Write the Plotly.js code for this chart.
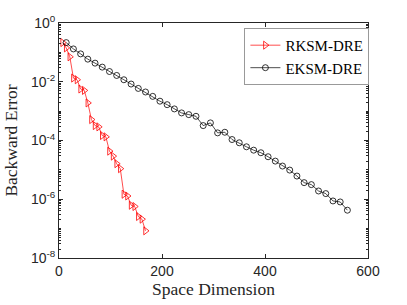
<!DOCTYPE html>
<html>
<head>
<meta charset="utf-8">
<script src="https://cdn.plot.ly/plotly-3.0.1.min.js"></script>
<style>html,body{margin:0;padding:0;background:#fff;}#chart{width:407px;height:305px;}</style>
</head>
<body>
<div id="chart"></div>
<script>
// RKSM-DRE: space dimension and backward error
const rksmDim = [7,14,21,28,35,42,49,56,63,70,77,84,91,98,105,112,119,126,133,140,147,154,161,168];
const rksmErr = [0.215,0.142,0.0704,0.01334,0.0117,5.66e-3,5.07e-3,1.90e-3,5.15e-4,3.22e-4,2.91e-4,1.48e-4,1.33e-4,4.34e-5,2.94e-5,1.62e-5,1.10e-5,1.48e-6,1.29e-6,6.26e-7,5.66e-7,2.59e-7,2.10e-7,8.41e-8];

// EKSM-DRE: space dimension and backward error
const eksmDim = [14,28,42,56,70,84,98,112,126,140,154,168,182,196,210,224,238,252,266,280,294,308,322,336,350,364,378,392,406,420,434,448,462,476,490,504,518,532,546,560];
const eksmErr = [0.215,0.131,0.0889,0.0588,0.0430,0.0315,0.0223,0.0164,0.0117,8.36e-3,5.93e-3,4.48e-3,3.18e-3,2.18e-3,1.66e-3,1.19e-3,8.69e-4,7.61e-4,6.67e-4,3.22e-4,3.98e-4,1.82e-4,1.91e-4,1.08e-4,8.36e-5,6.11e-5,4.69e-5,3.83e-5,2.80e-5,1.99e-5,1.35e-5,9.84e-6,6.16e-6,3.68e-6,3.15e-6,1.91e-6,1.56e-6,8.75e-7,8.09e-7,4.24e-7];

const xTickVals = [0,200,400,600];
const yTickVals = [1,1e-2,1e-4,1e-6,1e-8];
const yTickText = ['10<sup>0</sup>','10<sup>-2</sup>','10<sup>-4</sup>','10<sup>-6</sup>','10<sup>-8</sup>'];

const axisColor = '#262626';
const tickFont = {family:'Liberation Sans, Arial, sans-serif', size:14, color:'#262626'};
const titleFont = {family:'Liberation Serif, Times New Roman, serif', size:17.5, color:'#262626'};

const traces = [
  {x: rksmDim, y: rksmErr, name: 'RKSM-DRE', mode: 'lines+markers', type: 'scatter',
   line: {color: '#ff0000', width: 0.7},
   marker: {symbol: 'triangle-right-open', size: 7, color: '#ff0000', line: {width: 0.8, color: '#ff0000'}}},
  {x: eksmDim, y: eksmErr, name: 'EKSM-DRE', mode: 'lines+markers', type: 'scatter',
   line: {color: '#000000', width: 0.7},
   marker: {symbol: 'circle-open', size: 6, color: '#000000', line: {width: 0.8, color: '#000000'}}}
];

const layout = {
  width: 407, height: 305,
  margin: {l: 59, r: 39, t: 23, b: 47, pad: 0},
  paper_bgcolor: '#fff', plot_bgcolor: '#fff',
  showlegend: true,
  legend: {x: 0.6, y: 0.979, xanchor: 'left', yanchor: 'top',
    bgcolor: '#fff', bordercolor: '#999', borderwidth: 1,
    font: {family: 'Liberation Serif, Times New Roman, serif', size: 15, color: '#000'},
    tracegroupgap: 0, itemwidth: 30},
  xaxis: {range: [0, 600], tickvals: xTickVals, ticktext: xTickVals.map(String),
    showgrid: false, zeroline: false, showline: true, linecolor: axisColor, linewidth: 1,
    mirror: 'ticks', ticks: 'inside', ticklen: 4, tickcolor: axisColor, tickfont: tickFont,
    title: {text: 'Space Dimension', font: titleFont, standoff: 2}},
  yaxis: {type: 'log', range: [-8, 0], tickvals: yTickVals, ticktext: yTickText,
    showgrid: false, zeroline: false, showline: true, linecolor: axisColor, linewidth: 1,
    mirror: 'ticks', ticks: 'inside', ticklen: 4, tickcolor: axisColor, tickfont: tickFont,
    minor: {dtick: 'D1', ticks: 'inside', ticklen: 2, tickcolor: axisColor, showgrid: false},
    title: {text: 'Backward Error', font: titleFont, standoff: 8}}
};

Plotly.newPlot('chart', traces, layout, {displayModeBar: false, staticPlot: true});
</script>
</body>
</html>
